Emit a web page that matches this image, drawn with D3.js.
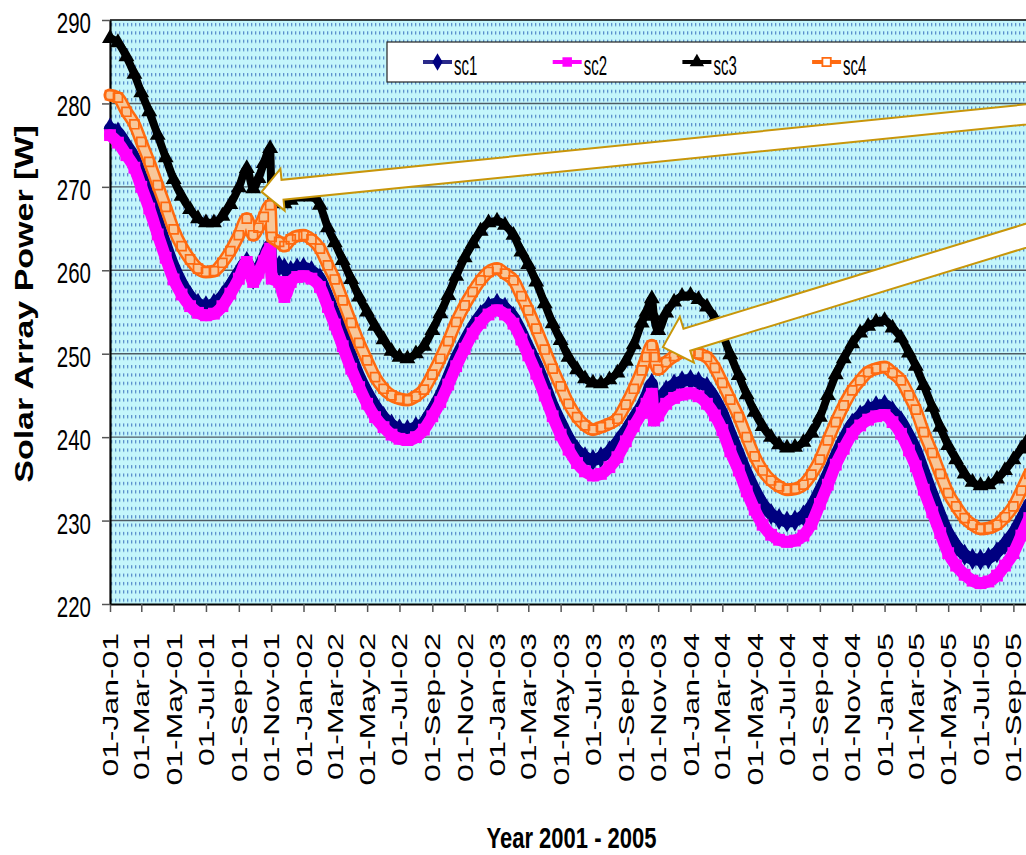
<!DOCTYPE html>
<html>
<head>
<meta charset="utf-8">
<script src="https://cdn.jsdelivr.net/npm/d3@7"></script>
<style>
  html, body { margin: 0; padding: 0; background: #ffffff; }
  svg { display: block; font-family: "Liberation Sans", Arial, sans-serif; }
</style>
</head>
<body>
<svg id="chart" width="1026" height="855"></svg>
<script>
// ---------------- DATA ----------------
const dates = [
  "2001-01-01","2001-01-16","2001-02-01","2001-02-16","2001-03-01","2001-03-16","2001-04-01","2001-04-16","2001-05-01","2001-05-16","2001-06-01","2001-06-16","2001-07-01","2001-07-16","2001-08-01","2001-08-16","2001-09-01","2001-09-16","2001-09-28","2001-10-08","2001-10-18","2001-10-30","2001-11-02","2001-11-16","2001-11-26","2001-12-08","2001-12-20",
  "2002-01-01","2002-01-16","2002-02-01","2002-02-16","2002-03-01","2002-03-16","2002-04-01","2002-04-16","2002-05-01","2002-05-16","2002-06-01","2002-06-16","2002-07-01","2002-07-16","2002-08-01","2002-08-16","2002-09-01","2002-09-16","2002-10-01","2002-10-16","2002-11-01","2002-11-16","2002-12-01","2002-12-16",
  "2003-01-01","2003-01-16","2003-02-01","2003-02-16","2003-03-01","2003-03-16","2003-04-01","2003-04-16","2003-05-01","2003-05-16","2003-06-01","2003-06-16","2003-07-01","2003-07-16","2003-08-01","2003-08-16","2003-09-01","2003-09-16","2003-10-01","2003-10-10","2003-10-20","2003-10-24","2003-11-01","2003-11-16","2003-12-01","2003-12-16",
  "2004-01-01","2004-01-16","2004-02-01","2004-02-16","2004-03-01","2004-03-16","2004-04-01","2004-04-16","2004-05-01","2004-05-16","2004-06-01","2004-06-16","2004-07-01","2004-07-16","2004-08-01","2004-08-16","2004-09-01","2004-09-16","2004-10-01","2004-10-16","2004-11-01","2004-11-16","2004-12-01","2004-12-16",
  "2005-01-01","2005-01-16","2005-02-01","2005-02-16","2005-03-01","2005-03-16","2005-04-01","2005-04-16","2005-05-01","2005-05-16","2005-06-01","2005-06-16","2005-07-01","2005-07-16","2005-08-01","2005-08-16","2005-09-01","2005-09-16","2005-10-01"
];

const sc1 = [
  277.0,276.5,275.0,273.5,271.3,269.0,265.9,263.1,260.5,258.5,256.9,256.0,255.7,256.0,256.9,258.2,259.8,261.0,259.0,260.2,261.5,263.0,260.3,260.5,260.2,259.9,260.2,
  260.3,259.9,259.0,256.8,254.8,252.4,249.7,247.3,245.4,243.8,242.4,241.5,240.95,240.85,241.2,241.7,243.3,245.0,247.2,249.5,251.5,253.2,254.6,255.6,
  256.0,255.5,254.4,252.6,250.8,248.8,246.3,243.8,241.8,239.9,238.4,237.6,237.25,237.6,238.3,239.4,240.8,242.3,243.8,245.0,246.4,243.6,244.2,245.6,246.3,246.7,
  246.85,246.6,246.0,244.6,242.9,240.5,238.0,235.7,233.7,232.0,230.8,230.2,229.9,230.0,230.6,231.7,233.6,235.6,237.8,239.8,241.6,242.6,243.3,243.7,
  243.85,243.1,241.9,240.2,238.5,235.9,233.2,230.7,228.5,227.0,225.9,225.4,225.3,225.5,226.2,227.2,228.5,230.2,232.0
];

const sc2 = [
  276.2,275.3,273.8,272.3,270.0,267.4,264.3,261.5,258.9,257.1,255.7,254.9,254.6,254.8,255.7,257.2,259.0,261.0,258.6,259.7,261.1,262.6,259.0,258.6,256.8,258.6,259.2,
  259.3,259.0,258.0,255.6,253.5,250.9,248.2,246.0,244.0,242.4,241.2,240.3,239.8,239.65,240.0,240.9,242.5,244.2,246.3,248.5,250.6,252.4,253.7,254.7,
  255.2,254.7,253.6,251.7,249.8,247.6,245.0,242.5,240.3,238.5,236.9,235.9,235.4,235.6,236.4,237.6,239.5,241.3,242.9,244.0,245.2,242.0,242.6,244.0,244.7,245.1,
  245.25,244.9,244.0,242.6,240.85,238.3,236.0,233.5,231.3,229.5,228.3,227.7,227.45,227.6,228.2,229.6,232.0,234.3,236.7,238.6,240.4,241.4,242.1,242.5,
  242.65,241.8,240.4,238.4,236.5,233.7,231.0,228.5,226.1,224.6,223.5,222.8,222.5,222.7,223.4,224.6,226.1,228.2,230.3
];

const sc3 = [
  287.8,287.3,285.6,283.5,281.3,279.0,276.2,273.5,270.9,268.9,267.3,266.2,265.7,265.7,266.5,267.9,269.9,272.2,269.8,271.0,272.8,274.6,268.3,268.2,268.0,268.4,268.8,
  268.9,268.8,267.8,265.1,263.3,261.2,258.9,256.8,255.0,253.3,251.7,250.3,249.6,249.4,250.0,250.9,252.8,254.8,257.0,259.3,261.5,263.2,264.7,265.7,
  265.9,265.4,264.2,262.2,260.7,258.6,256.0,253.6,251.6,249.6,248.1,247.0,246.5,246.4,246.9,247.7,249.1,251.1,253.7,255.0,256.6,254.5,252.8,254.9,256.2,256.9,
  257.0,256.5,255.6,254.2,252.4,249.9,247.4,245.1,243.0,241.3,240.0,239.1,238.7,238.8,239.4,240.5,242.4,245.0,247.5,249.4,251.2,252.5,253.3,253.8,
  254.0,253.1,251.9,250.1,248.5,246.2,243.6,241.2,239.0,237.3,235.6,234.6,234.2,234.3,235.0,236.0,237.3,238.6,240.0
];

const sc4 = [
  281.0,280.7,279.0,277.5,275.4,273.0,270.2,267.6,264.9,262.9,261.3,260.2,259.8,259.9,260.9,262.3,264.2,266.2,264.2,265.1,266.4,267.8,264.0,263.4,262.9,263.7,264.1,
  264.2,263.7,262.6,260.6,258.9,256.4,253.7,251.3,249.2,247.2,245.8,245.0,244.6,244.45,244.9,245.7,247.5,249.4,251.5,253.8,255.8,257.4,258.8,259.8,
  260.2,259.6,258.8,256.9,255.2,253.0,250.5,248.2,246.1,244.0,242.4,241.4,240.9,241.2,241.6,242.2,243.9,245.8,248.0,249.6,251.0,249.6,248.1,249.0,249.7,250.2,
  250.3,250.0,249.6,248.3,246.5,244.5,242.4,240.0,237.7,236.0,234.8,234.1,233.7,233.8,234.3,235.5,237.3,239.6,241.8,243.8,245.6,246.8,247.8,248.2,
  248.4,247.7,246.8,245.0,243.3,240.6,238.1,235.6,233.3,231.7,230.3,229.5,229.0,229.1,229.5,230.4,231.7,233.6,235.6
];

const seriesNames = ["sc1","sc2","sc3","sc4"];
const yTicks = [220, 230, 240, 250, 260, 270, 280, 290];
const xDomain = ["2001-01-01", "2005-10-08"];
const xTickStart = "2001-01-01";
const xTickEnd = "2005-09-02";
const xTitle = "Year 2001 - 2005";
const yTitle = "Solar Array Power [W]";

// annotation arrows (tip and tail in data space)
const arrowTips  = [["2001-10-14", 269.4], ["2003-11-10", 250.8]];
const arrowTails = [["2005-11-28", 279.1], ["2005-11-28", 265.4]];

// ---------------- LAYOUT ----------------
const PL = 110, PT = 20, PR = 1033, PB = 604;
const parse = d3.utcParse("%Y-%m-%d");
const fmt = d3.utcFormat("%d-%b-%y");

const svg = d3.select("#chart");
const defs = svg.append("defs");

const x = d3.scaleUtc().domain(xDomain.map(parse)).range([PL, PR]);
const y = d3.scaleLinear().domain([220, 290]).range([PB, PT]);

// background pattern
const rowH = (PB - PT) / 70;
const pat = defs.append("pattern").attr("id", "bgpat")
  .attr("patternUnits", "userSpaceOnUse")
  .attr("x", PL).attr("y", PT + 2)
  .attr("width", 4).attr("height", rowH);
pat.append("rect").attr("width", 4).attr("height", rowH).attr("fill", "#c4f6fb");
pat.append("rect").attr("x", 1).attr("y", 1).attr("width", 1.3).attr("height", 3.2).attr("fill", "#5a8fcc");

svg.append("rect").attr("x", PL).attr("y", PT).attr("width", PR - PL).attr("height", PB - PT)
  .attr("fill", "url(#bgpat)");

// gridlines
svg.append("g").selectAll("line").data(yTicks.filter(v => v > 220)).join("line")
  .attr("x1", PL).attr("x2", PR)
  .attr("y1", d => y(d)).attr("y2", d => y(d))
  .attr("stroke", d => d === 290 ? "#000" : "#4d5a63")
  .attr("stroke-width", d => d === 290 ? 1.6 : 1.4);

// axes
const xTicks = d3.utcMonth.every(2).range(parse(xTickStart), parse(xTickEnd));
const gx = svg.append("g").attr("transform", `translate(0,${PB})`)
  .call(d3.axisBottom(x).tickValues(xTicks).tickSize(8).tickSizeOuter(0).tickFormat(""));
gx.select(".domain").attr("stroke", "#000").attr("stroke-width", 2.2);
gx.selectAll(".tick line").attr("stroke", "#555").attr("stroke-width", 1.5);

const gy = svg.append("g").attr("transform", `translate(${PL},0)`)
  .call(d3.axisLeft(y).tickValues(yTicks).tickSize(8).tickSizeOuter(0).tickFormat(""));
gy.select(".domain").attr("stroke", "#000").attr("stroke-width", 2.2);
gy.selectAll(".tick line").attr("stroke", "#555").attr("stroke-width", 1.5);

// y tick labels (tall, condensed look)
svg.append("g").selectAll("text").data(yTicks).join("text")
  .attr("transform", d => `translate(91,${y(d) + 13}) scale(1,1.45)`)
  .attr("text-anchor", "end")
  .style("font-size", "20.5px")
  .attr("fill", "#000")
  .text(d => d);

// x tick labels (rotated)
svg.append("g").selectAll("text").data(xTicks).join("text")
  .attr("transform", d => `translate(${x(d) + 8},633) scale(1,1.45) rotate(-90)`)
  .attr("text-anchor", "end")
  .style("font-size", "22px")
  .attr("fill", "#000")
  .text(d => fmt(d));

// axis titles
svg.append("text")
  .attr("transform", `translate(${(PL + PR) / 2},848) scale(1,1.35)`)
  .attr("text-anchor", "middle")
  .style("font-size", "22px").style("font-weight", "bold")
  .text(xTitle);

svg.append("text")
  .attr("transform", `translate(33,304) scale(1,1.36) rotate(-90)`)
  .attr("text-anchor", "middle")
  .style("font-size", "25px").style("font-weight", "bold")
  .text(yTitle);

// ---------------- SERIES ----------------
const idx = d3.range(dates.length);
const pd = dates.map(parse);

const styles = {
  sc1: { color: "#000080", width: 12, sym: d3.symbolDiamond, size: 140, fill: "#000080", stroke: "none" },
  sc2: { color: "#ff00ff", width: 12, sym: d3.symbolSquare, size: 140, fill: "#ff00ff", stroke: "none" },
  sc3: { color: "#000000", width: 8, sym: d3.symbolTriangle, size: 110, fill: "#000000", stroke: "none" },
  sc4: { color: "#ff6a10", width: 13, inner: "#f7c79a", innerWidth: 8, sym: d3.symbolSquare, size: 80, fill: "none", stroke: "#ff6a10" }
};
const valuesBy = { sc1, sc2, sc3, sc4 };

const plot = svg.append("g");
seriesNames.forEach(name => {
  const vals = valuesBy[name];
  const st = styles[name];
  const line = d3.line().x(i => x(pd[i])).y(i => y(vals[i])).curve(d3.curveMonotoneX);
  const g = plot.append("g");
  g.append("path").attr("d", line(idx))
    .attr("fill", "none").attr("stroke", st.color).attr("stroke-width", st.width)
    .attr("stroke-linejoin", "round").attr("stroke-linecap", "round");
  if (st.inner) {
    g.append("path").attr("d", line(idx))
      .attr("fill", "none").attr("stroke", st.inner).attr("stroke-width", st.innerWidth)
      .attr("stroke-linejoin", "round").attr("stroke-linecap", "round");
  }
  g.selectAll("path.m").data(idx).join("path").attr("class", "m")
    .attr("transform", i => `translate(${x(pd[i])},${y(vals[i])})`)
    .attr("d", d3.symbol().type(st.sym).size(st.size))
    .attr("fill", st.fill).attr("stroke", st.stroke).attr("stroke-width", 1.7);
});

// ---------------- ARROWS ----------------
const arrowGeom = [
  { hl: 21, hw: 42, sw: 20 },
  { hl: 25, hw: 48, sw: 23 }
];
arrowTips.forEach((tp, k) => {
  const T = [x(parse(tp[0])), y(tp[1])];
  const E = [x(parse(arrowTails[k][0])), y(arrowTails[k][1])];
  const dx = E[0] - T[0], dy = E[1] - T[1];
  const L = Math.hypot(dx, dy);
  const u = [dx / L, dy / L];
  const n = [-u[1], u[0]];
  const g = arrowGeom[k];
  const B = [T[0] + u[0] * g.hl, T[1] + u[1] * g.hl];
  const pts = [
    T,
    [B[0] + n[0] * g.hw / 2, B[1] + n[1] * g.hw / 2],
    [B[0] + n[0] * g.sw / 2, B[1] + n[1] * g.sw / 2],
    [E[0] + n[0] * g.sw / 2, E[1] + n[1] * g.sw / 2],
    [E[0] - n[0] * g.sw / 2, E[1] - n[1] * g.sw / 2],
    [B[0] - n[0] * g.sw / 2, B[1] - n[1] * g.sw / 2],
    [B[0] - n[0] * g.hw / 2, B[1] - n[1] * g.hw / 2]
  ];
  svg.append("path")
    .attr("d", "M" + pts.map(p => p.join(",")).join("L") + "Z")
    .attr("fill", "#ffffff").attr("stroke", "#c8960a").attr("stroke-width", 2)
    .attr("stroke-linejoin", "miter");
});

// ---------------- LEGEND ----------------
const lg = svg.append("g");
lg.append("rect").attr("x", 387).attr("y", 42).attr("width", 700).attr("height", 40)
  .attr("fill", "#fff").attr("stroke", "#222").attr("stroke-width", 1.2);
seriesNames.forEach((name, k) => {
  const st = styles[name];
  const x0 = 423 + k * 129.7;
  const gi = lg.append("g").attr("transform", `translate(${x0},62)`);
  gi.append("line").attr("x1", 0).attr("x2", 29).attr("y1", 0).attr("y2", 0)
    .attr("stroke", name === "sc1" ? "#2a2a8a" : st.color).attr("stroke-width", 4);
  gi.append("path").attr("transform", "translate(14.5,0)")
    .attr("d", d3.symbol().type(st.sym).size(name === "sc4" ? 70 : 90))
    .attr("fill", name === "sc4" ? "#fff" : st.fill)
    .attr("stroke", name === "sc4" ? st.color : "none").attr("stroke-width", 1.8);
  gi.append("text").attr("transform", "translate(31,13) scale(1,1.85)")
    .style("font-size", "15px").attr("fill", "#000").text(name);
});
</script>
</body>
</html>
